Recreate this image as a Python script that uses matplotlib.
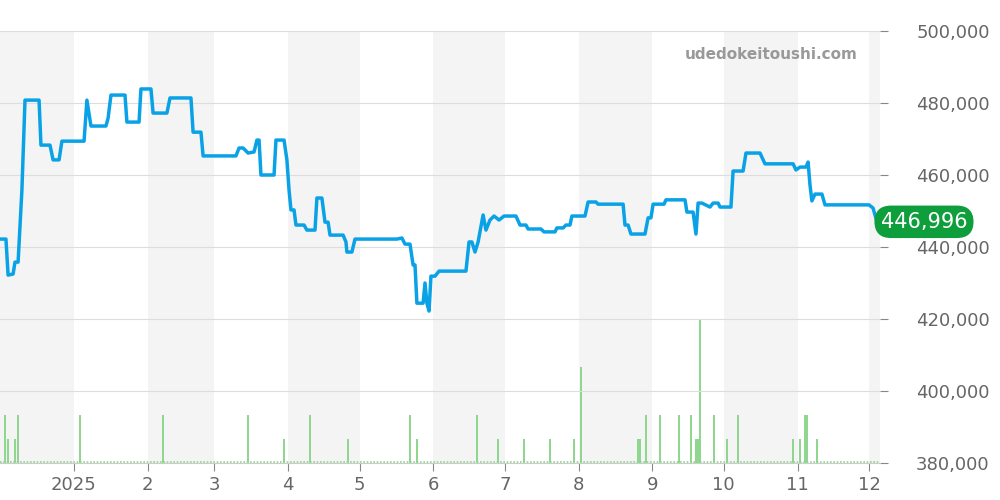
import matplotlib.pyplot as plt
import numpy as np

# days since 2024-12-01 and price (JPY)
days = [0, 2.5, 3.4, 5.5, 6.3, 7.6, 9.2, 10.5, 16.4, 17.2, 21, 22.3, 24.8, 26, 35.3, 36.5, 38.2,
        44.5, 45.4, 46.6, 52.5, 53.3, 58.4, 59.2, 63.4, 64.3, 70.1, 71.4, 80.2, 81.1, 84.4, 85.3,
        99.1, 100.4, 102.1, 104.2, 106.7, 107.9, 108.8, 109.6, 115.1, 115.9, 119.3, 120.5, 121.4,
        122.2, 123.5, 124.3, 127.7, 128.9, 132.3, 133.1, 135.2, 136.5, 137.8, 138.6, 144.1, 145.3,
        145.7, 147.8, 149.1, 166.7, 168.8, 170.1, 172.2, 173.5, 174.3, 175.1, 177.7, 178.5, 179.3,
        180.2, 181, 182.7, 184.4, 195.7, 197, 198.2, 199.5, 200.8, 202.9, 204.1, 205.8, 207.5,
        209.6, 211.7, 216.7, 218.4, 220.9, 221.8, 227.2, 228.5, 233.1, 233.9, 236.5, 237.7, 239.4,
        240.2, 245.7, 247, 250.3, 251.2, 261.7, 262.5, 263.8, 265, 270.9, 272.2, 273.4, 274.3,
        278.9, 279.7, 287.7, 288.5, 291.1, 292.3, 293.2, 294.8, 298.2, 299.5, 301.6, 302.4, 307,
        307.9, 312.1, 313.3, 319.2, 321.3, 333.1, 334.3, 336, 338.5, 339.4, 340.2, 341, 342.3,
        345.2, 346.5, 365, 366.7, 368.3]
price = [442200, 442200, 432200, 432500, 435800, 435800, 455800, 480800, 480800, 468300, 468300,
         464200, 464200, 469400, 469400, 480800, 473600, 473600, 475800, 482200, 482200, 474700,
         474700, 483900, 483900, 477200, 477200, 481400, 481400, 471900, 471900, 465300, 465300,
         467500, 467500, 466100, 466400, 469700, 469700, 460000, 460000, 469700, 469700, 464200,
         455800, 450300, 450300, 446100, 446100, 444700, 444700, 453600, 453600, 446900, 446900,
         443300, 443300, 441400, 438600, 438600, 442200, 442200, 442500, 440800, 440800, 435000,
         435000, 424400, 424400, 430000, 424400, 422200, 431900, 431900, 433300, 433300, 441400,
         441400, 438600, 441400, 448900, 444700, 447500, 448600, 447500, 448600, 448600, 446100,
         446100, 445000, 445000, 444200, 444200, 445300, 445300, 446100, 446100, 448600, 448600,
         452500, 452500, 451900, 451900, 446100, 446100, 443600, 443600, 448100, 448100, 451900,
         451900, 453100, 453100, 449700, 449700, 443600, 452200, 452200, 451100, 452200, 452200,
         451100, 451100, 461100, 461100, 466100, 466100, 463100, 463100, 461400, 462200, 462200,
         463600, 457200, 452800, 454700, 454700, 451700, 451700, 450800, 446996]

vol_days = [2.1, 3.4, 6.3, 7.6, 33.6, 68.5, 104.2, 119.3, 130.2, 146.2, 172.2, 175.1, 200.3, 209.2,
            220.1, 231, 241.1, 244, 268, 268.8, 271.3, 277.2, 285.2, 290.2, 292.3, 293.2, 294,
            299.9, 305.3, 310, 333.1, 336, 338.1, 338.9, 343.1]
vol = [2, 1, 1, 2, 2, 2, 2, 1, 2, 1, 2, 1, 2, 1, 1, 1, 1, 4, 1, 1, 2, 2, 2, 2, 1, 1, 6,
       2, 1, 2, 1, 1, 2, 2, 1]

month_starts = [0, 31, 62, 90, 121, 151, 182, 212, 243, 274, 304, 335, 365, 370]
tick_days = month_starts[1:13]
tick_labels = ['2025', '2', '3', '4', '5', '6', '7', '8', '9', '10', '11', '12']

fig = plt.figure(figsize=(10, 5), dpi=100)
ax = fig.add_axes([0, 0.074, 0.88, 0.864])
xmax = 369.6

# volume axis sits behind the price axis, month shading goes under the bars
ax2 = ax.twinx()
for i in range(0, len(month_starts) - 1, 2):
    ax2.axvspan(month_starts[i], month_starts[i + 1], color='#f4f4f4', zorder=0, lw=0)
ax2.bar(vol_days, vol, width=0.6, color='#8fd68f', zorder=1)
ax2.axhline(0.04, color='#8fd68f', lw=1.2, ls=(0, (1, 1)), zorder=1)
ax2.set_ylim(0, 18)
ax2.set_xlim(0, xmax)
ax2.axis('off')

ax.set_zorder(ax2.get_zorder() + 1)
ax.patch.set_visible(False)
ax.plot(days, price, color='#0aa2e6', lw=2.5, zorder=3, solid_joinstyle='round')

ax.set_xlim(0, xmax)
ax.set_ylim(380000, 500000)
ax.set_yticks(np.arange(380000, 500001, 20000))
ax.yaxis.tick_right()
ax.set_yticklabels([f'{v:,}' for v in range(380000, 500001, 20000)])
ax.set_xticks(tick_days)
ax.set_xticklabels(tick_labels)
ax.tick_params(axis='both', colors='#888888', labelcolor='#666666', labelsize=13, length=6)
ax.tick_params(axis='y', pad=20)
ax.grid(axis='y', color='#dddddd', lw=0.8)
for s in ['top', 'left', 'right']:
    ax.spines[s].set_visible(False)
ax.spines['bottom'].set_color('#cccccc')

ax.text(0.975, 0.945, 'udedokeitoushi.com', transform=ax.transAxes, ha='right', va='center',
        fontsize=11, fontweight='bold', color='#999999')
ax.text(1.05, (price[-1] - 380000) / 120000, f'{price[-1]:,}', transform=ax.transAxes,
        ha='center', va='center', fontsize=15, color='white',
        bbox=dict(boxstyle='round,pad=0.3,rounding_size=0.8', fc='#0f9e3c', ec='none'))

fig.savefig('out.png')
